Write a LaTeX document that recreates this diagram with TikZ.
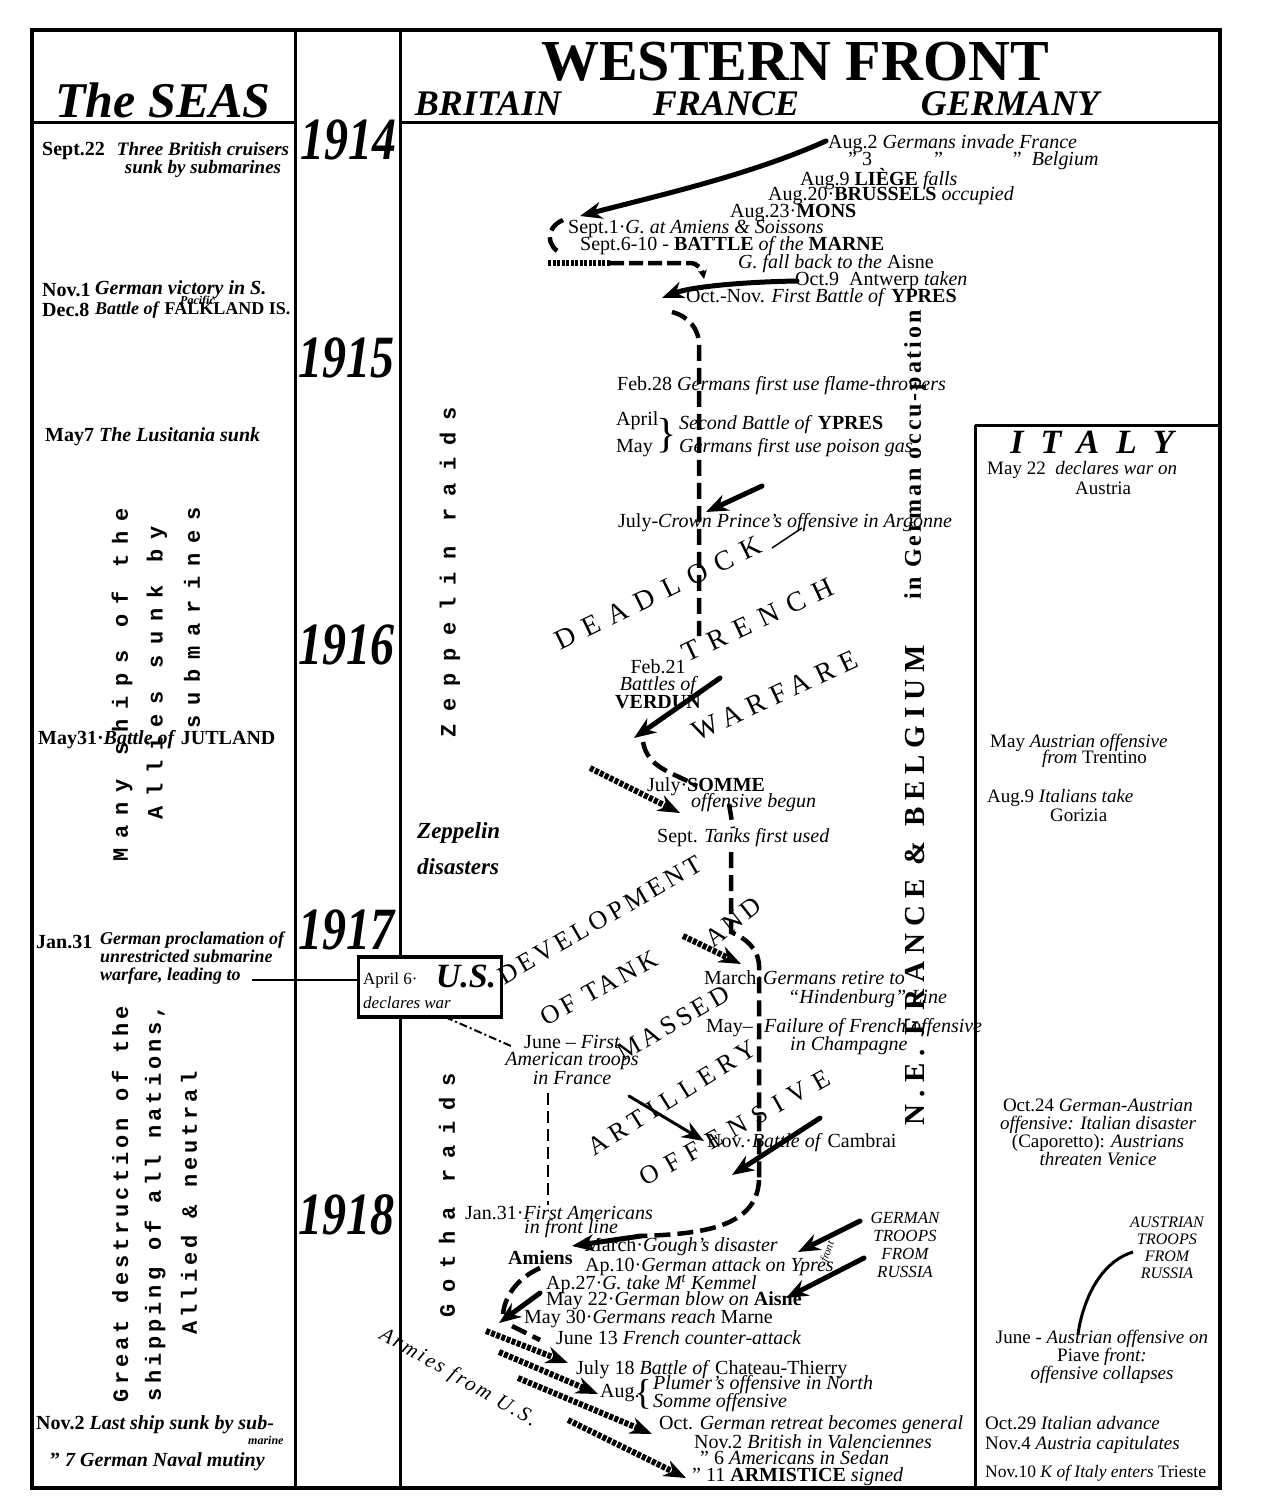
\documentclass[tikz,border=0pt]{standalone}
\usepackage{fontspec}
\setmainfont{Liberation Serif}
\newfontfamily\monof{Liberation Mono}
\usetikzlibrary{arrows.meta}

\newcommand\evfont{\fontsize{20}{17}\selectfont\itshape}
\newcommand\seafont{\fontsize{20}{18}\selectfont\bfseries\itshape}
\newcommand\italyfont{\fontsize{19}{18}\selectfont\itshape}
\newcommand\yearfont{\fontsize{60}{60}\selectfont\bfseries\itshape}
\newcommand\typefont[2]{\fontsize{#1}{#1}\selectfont\monof\bfseries\addfontfeature{LetterSpace=#2}}
\newcommand\capsfont[2]{\fontsize{#1}{#1}\selectfont\addfontfeature{LetterSpace=#2}}
\newcommand\squash[1]{\scalebox{0.8}[1]{#1}}
\newcommand\ditto{\textup{''}}

\begin{document}
\begin{tikzpicture}[x=1pt, y=-1pt,
    ev/.style={font=\evfont, inner sep=0pt, anchor=west},
    evc/.style={font=\evfont, inner sep=0pt, align=center},
    sea/.style={font=\seafont, inner sep=0pt, anchor=west},
    italy/.style={font=\italyfont, inner sep=0pt, anchor=west},
    year/.style={font=\yearfont, inner sep=0pt},
    wide/.style={font={\typefont{22}{45}}, inner sep=0pt, rotate=90},
    slant/.style={font={\capsfont{28}{37}}, inner sep=0pt},
    slantb/.style={font={\capsfont{26}{15}}, inner sep=0pt},
    push/.style={line width=5pt, line cap=round, -{Stealth[length=22pt,width=17pt]}},
    hatch/.style={line width=6pt, dash pattern=on 4pt off 1.5pt, -{Stealth[length=22pt,width=17pt]}},
    front/.style={line width=4.5pt, dash pattern=on 16pt off 7pt},
    rule/.style={line width=3pt}]

    \useasboundingbox (0,0) rectangle (1264,1497);

    % Frame and columns
    \draw[line width=4pt] (32,30) rectangle (1220,1488);
    \draw[rule] (295,30) -- (295,1488);
    \draw[rule] (400,30) -- (400,1488);
    \draw[rule] (32,122) -- (295,122);
    \draw[rule] (400,122) -- (1220,122);
    \draw[rule] (975,425) -- (1220,425) (975,425) -- (975,1488);

    % Headings
    \node[font=\fontsize{50}{50}\selectfont\bfseries\itshape] (seas) at (163,100) {The SEAS};
    \node[font=\fontsize{58}{58}\selectfont\bfseries] (western) at (795,62) {WESTERN FRONT};
    \node[font=\fontsize{36}{36}\selectfont\bfseries\itshape] (britain) at (488,104) {BRITAIN};
    \node[font=\fontsize{36}{36}\selectfont\bfseries\itshape] (france) at (726,104) {FRANCE};
    \node[font=\fontsize{36}{36}\selectfont\bfseries\itshape] (germany) at (1010,104) {GERMANY};

    % Years
    \node[year] (y1914) at (348,140) {\squash{1914}};
    \node[year] (y1915) at (346,358) {\squash{1915}};
    \node[year] (y1916) at (346,645) {\squash{1916}};
    \node[year] (y1917) at (346,930) {\squash{1917}};
    \node[year] (y1918) at (346,1215) {\squash{1918}};

    % The seas
    \node[sea] (sept22) at (42,151) {\textup{Sept.22}};
    \node[sea, anchor=center, align=center, font=\fontsize{19}{18}\selectfont\bfseries\itshape] (cruisers) at (203,160) {Three British cruisers\\sunk by submarines};
    \node[sea] (nov1) at (42,290) {\textup{Nov.1}};
    \node[sea] (pacvic) at (95,290) {German victory in S.};
    \node[sea, font=\fontsize{12}{12}\selectfont\bfseries\itshape] (pacific) at (180,302) {Pacific};
    \node[sea] (dec8) at (42,310) {\textup{Dec.8}};
    \node[sea, font=\fontsize{18}{18}\selectfont\bfseries\itshape] (falkland) at (95,310) {Battle of \textup{FALKLAND IS.}};
    \node[sea] (lusitania) at (45,437) {\textup{May7} The Lusitania sunk};
    \node[sea] (jutland) at (38,740) {\textup{May31·}Battle of \textup{JUTLAND}};
    \node[sea] (jan31s) at (36,942) {\textup{Jan.31}};
    \node[sea, anchor=north west, align=left, font=\fontsize{18}{18}\selectfont\bfseries\itshape] (proclam) at (100,932) {German proclamation of\\unrestricted submarine\\warfare, leading to};
    \node[sea] (nov2s) at (36,1425) {\textup{Nov.2} Last ship sunk by sub-};
    \node[sea, font=\fontsize{12}{12}\selectfont\bfseries\itshape] (marine) at (248,1440) {marine};
    \node[sea] (mutiny) at (50,1462) {\ditto\ 7 German Naval mutiny};

    \node[wide] (manyships) at (122,685) {Many ships of the};
    \node[wide] (alliessunk) at (157,673) {Allies sunk by};
    \node[wide] (submarines) at (192,618) {submarines};
    \node[wide, font={\typefont{22}{18}}] (greatdest) at (120,1204) {Great destruction of the};
    \node[wide, font={\typefont{22}{18}}] (shipping) at (155,1203) {shipping of all nations,};
    \node[wide, font={\typefont{22}{18}}] (allied) at (189,1203) {Allied \& neutral};

    % 1914
    \node[ev] (aug2) at (828,144) {\textup{Aug.2} Germans invade France};
    \node[ev] (aug3) at (848,161) {\ditto\ \textup{3}\hspace{62pt}\ditto\hspace{70pt}\ditto\ \ Belgium};
    \node[ev] (liege) at (800,179) {\textup{Aug.9 \textbf{LIÈGE}} falls};
    \node[ev] (brussels) at (768,196) {\textup{Aug.20·\textbf{BRUSSELS}} occupied};
    \node[ev] (mons) at (730,213) {\textup{Aug.23·\textbf{MONS}}};
    \node[ev] (sept1) at (568,229) {\textup{Sept.1·}G. at Amiens \& Soissons};
    \node[ev] (marne) at (580,246) {\textup{Sept.6-10 - \textbf{BATTLE} \textit{of the} \textbf{MARNE}}};
    \node[ev] (aisne) at (738,264) {G. fall back to the \textup{Aisne}};
    \node[ev] (antwerp) at (795,281) {\textup{Oct.9 \ Antwerp} taken};
    \node[ev] (ypres1) at (686,298) {\textup{Oct.-Nov.} First Battle of \textup{\textbf{YPRES}}};

    \coordinate (invT) at (826,141);
    \coordinate (invH) at (580,216);
    \draw[push] (invT) .. controls (750,175) and (660,195) .. (invH);
    \coordinate (brk1) at (563,220);
    \coordinate (brk2) at (562,254);
    \draw[front] (brk1) .. controls (545,228) and (546,246) .. (brk2);
    \coordinate (retL) at (548,263);
    \coordinate (retM) at (610,263);
    \coordinate (retR) at (690,263);
    \coordinate (retE) at (704,279);
    \draw[line width=6pt, dash pattern=on 3pt off 1.5pt] (retL) -- (retM);
    \draw[front, dash pattern=on 14pt off 5pt, -{Stealth[length=9pt,width=9pt]}] (retM) -- (retR) to[out=0, in=100] (retE);
    \coordinate (antT) at (797,281);
    \coordinate (antH) at (662,298);
    \draw[push] (antT) .. controls (740,282) and (690,287) .. (antH);

    % 1915
    \node[ev] (flame) at (617,386) {\textup{Feb.28} Germans first use flame-throwers};
    \node[ev] (april15) at (616,421) {\textup{April}};
    \node[ev] (may15) at (616,448) {\textup{May}};
    \node[inner sep=0pt, font=\fontsize{42}{42}\selectfont] (brace15) at (667,436) {\}};
    \node[ev] (ypres2) at (679,425) {Second Battle of \textup{\textbf{YPRES}}};
    \node[ev] (gas) at (679,448) {Germans first use poison gas};
    \node[ev] (argonne) at (618,523) {\textup{July-}Crown Prince's offensive in Argonne};

    \coordinate (f1) at (672,312);
    \coordinate (f2) at (699,345);
    \coordinate (f3) at (699,636);
    \draw[front] (f1) to[out=-15, in=90] (f2) -- (f3);
    \coordinate (argT) at (762,486);
    \coordinate (argH) at (706,512);
    \draw[push] (argT) -- (argH);
    \coordinate (dlk) at (772,548);
    \coordinate (argl) at (802,528);
    \draw[line width=1.5pt] (dlk) -- (argl);

    % 1916
    \node[evc] (verdun) at (658,684) {\textup{Feb.21}\\Battles of\\\textup{\textbf{VERDUN}}};
    \node[ev] (somme) at (647,787) {\textup{July·\textbf{SOMME}}};
    \node[ev] (sommeoff) at (691,803) {offensive begun};
    \node[ev] (tanks) at (657,838) {\textup{Sept.} Tanks first used};
    \node[ev, font=\fontsize{23}{23}\selectfont\bfseries\itshape] (zepdis) at (417,833) {Zeppelin};
    \node[ev, font=\fontsize{23}{23}\selectfont\bfseries\itshape] (zepdis2) at (417,867) {disasters};

    \coordinate (verT) at (720,678);
    \coordinate (verH) at (634,738);
    \draw[push] (verT) -- (verH);
    \coordinate (f4) at (643,742);
    \coordinate (f5) at (697,786);
    \draw[front] (f4) to[out=-80, in=150] (f5);
    \coordinate (somT) at (590,768);
    \coordinate (somH) at (680,813);
    \draw[hatch] (somT) -- (somH);
    \coordinate (f6) at (729,804);
    \coordinate (f7) at (733,828);
    \draw[front] (f6) -- (f7);

    % 1917
    \node[draw, line width=3.5pt, fill=white, minimum width=143pt, minimum height=60pt, inner sep=0pt] (usbox) at (430,987) {};
    \node[ev, font=\fontsize{17}{17}\selectfont] (usapril) at (363,980) {April 6·};
    \node[font=\fontsize{34}{34}\selectfont\bfseries\itshape, inner sep=0pt] (usbig) at (466,976) {U.S.};
    \node[ev, font=\fontsize{17}{17}\selectfont\itshape] (uswar) at (363,1003) {declares war};
    \node[ev] (hindenburg) at (704,978) {\textup{March·}Germans retire to};
    \node[ev] (hindline) at (788,999) {``Hindenburg'' Line};
    \node[ev] (may17) at (706,1028) {\textup{May–}};
    \node[ev] (champagne) at (764,1028) {Failure of French offensive};
    \node[ev] (champ2) at (790,1046) {in Champagne};
    \node[evc] (june17) at (572,1060) {\textup{June – }First\\American troops\\in France};
    \node[ev] (cambrai) at (707,1143) {\textup{Nov.·}Battle of \textup{Cambrai}};

    \coordinate (leadto) at (252,980);
    \draw[line width=2.5pt] (leadto) -- (leadto -| usbox.west);
    \coordinate (usS) at (445,1017);
    \coordinate (usJ) at (511,1046);
    \draw[line width=2pt, dash pattern=on 8pt off 3pt on 2pt off 3pt] (usS) -- (usJ);
    \coordinate (jd1) at (548,1093);
    \coordinate (jd2) at (548,1205);
    \draw[line width=2.5pt, dash pattern=on 12pt off 6pt] (jd1) -- (jd2);
    \coordinate (f8) at (731,852);
    \coordinate (f9) at (731,932);
    \coordinate (f10) at (759,965);
    \coordinate (f11) at (759,1180);
    \draw[front] (f8) -- (f9) .. controls (745,938) and (758,948) .. (f10) -- (f11);
    \coordinate (andT) at (683,936);
    \coordinate (andH) at (741,964);
    \draw[hatch] (andT) -- (andH);
    \coordinate (camT) at (629,1096);
    \coordinate (camH) at (704,1141);
    \draw[push, line width=3pt] (camT) -- (camH);
    \coordinate (offT) at (820,1118);
    \coordinate (offH) at (732,1175);
    \draw[push] (offT) -- (offH);

    % Slanted labels
    \node[slant, rotate=26] (deadlock) at (658,593) {DEADLOCK};
    \node[slant, rotate=25] (trench) at (758,620) {TRENCH};
    \node[slant, rotate=25, font={\capsfont{28}{28}}] (warfare) at (775,696) {WARFARE};
    \node[slantb, rotate=30] (development) at (600,920) {DEVELOPMENT};
    \node[slantb, rotate=38] (andlbl) at (733,922) {AND};
    \node[slantb, rotate=29] (oftank) at (599,988) {OF TANK};
    \node[slantb, rotate=30] (massed) at (673,1023) {MASSED};
    \node[slantb, rotate=32, font={\capsfont{26}{25}}] (artillery) at (672,1098) {ARTILLERY};
    \node[slantb, rotate=29, font={\capsfont{26}{35}}] (offensive) at (735,1128) {OFFENSIVE};

    % Vertical labels
    \node[wide, font={\typefont{22}{55}}] (zepraids) at (450,572) {Zeppelin raids};
    \node[wide, font={\typefont{22}{50}}] (gotharaids) at (447,1195) {Gotha raids};
    \node[rotate=90, inner sep=0pt, font={\fontsize{29}{29}\selectfont\bfseries\addfontfeature{LetterSpace=24}}] (occupied) at (915,885) {N.E. FRANCE \& BELGIUM};
    \node[rotate=90, inner sep=0pt, font={\fontsize{24}{24}\selectfont\bfseries\addfontfeature{LetterSpace=12}}] (occupied2) at (915,455) {in German occu-pation};

    % 1918
    \node[ev] (jan31) at (465,1213) {\textup{Jan.31·}First Americans};
    \node[ev] (frontline) at (524,1229) {in front line};
    \node[ev, font=\fontsize{20}{20}\selectfont\bfseries] (amiens) at (508,1258) {Amiens};
    \node[ev] (gough) at (584,1247) {\textup{March·}Gough's disaster};
    \node[ev] (ypres3) at (585,1267) {\textup{Ap.10·}German attack on Ypres};
    \node[font=\fontsize{11}{11}\selectfont\itshape, rotate=70, inner sep=0pt] (frontlbl) at (828,1252) {front};
    \node[ev] (kemmel) at (546,1284) {\textup{Ap.27·}G. take M\textsuperscript{t} Kemmel};
    \node[ev] (may22) at (546,1301) {\textup{May 22·}German blow on \textup{\textbf{Aisne}}};
    \node[ev] (may30) at (524,1319) {\textup{May 30·}Germans reach \textup{Marne}};
    \node[ev] (june13) at (556,1338) {\textup{June 13} French counter-attack};
    \node[ev] (july18) at (576,1370) {\textup{July 18} Battle of \textup{Chateau-Thierry}};
    \node[ev] (aug18) at (600,1393) {\textup{Aug.}};
    \node[inner sep=0pt, font=\fontsize{36}{36}\selectfont] (brace18) at (643,1394) {\{};
    \node[ev] (plumer) at (653,1385) {Plumer's offensive in North};
    \node[ev] (sommeoff2) at (653,1403) {Somme offensive};
    \node[ev] (retreat) at (659,1425) {\textup{Oct.} German retreat becomes general};
    \node[ev] (valenc) at (694,1442) {\textup{Nov.2} British in Valenciennes};
    \node[ev] (sedan) at (700,1458) {\ditto\ \textup{6} Americans in Sedan};
    \node[ev] (armistice) at (692,1477) {\ditto\ \textup{11 \textbf{ARMISTICE}} signed};
    \node[evc, font=\fontsize{17}{18}\selectfont\itshape] (gtroops) at (905,1245) {GERMAN\\TROOPS\\FROM\\RUSSIA};
    \node[rotate=-30, inner sep=0pt, font={\fontsize{21}{21}\selectfont\itshape\addfontfeature{LetterSpace=12}}] (armiesus) at (458,1378) {Armies from U.S.};

    \coordinate (f12) at (641,1236);
    \draw[front] (f11) .. controls (757,1228) and (700,1234) .. (f12);
    \coordinate (amH) at (572,1246);
    \draw[push] (f12) -- (amH);
    \coordinate (f13) at (540,1268);
    \coordinate (f14) at (503,1314);
    \draw[front] (f13) .. controls (518,1278) and (505,1295) .. (f14);
    \coordinate (maT) at (540,1293);
    \coordinate (maH) at (499,1323);
    \draw[push] (maT) -- (maH);
    \coordinate (f15) at (512,1326);
    \coordinate (f16) at (540,1340);
    \draw[front] (f15) -- (f16);
    \coordinate (gt1T) at (860,1221);
    \coordinate (gt1H) at (798,1252);
    \draw[push] (gt1T) -- (gt1H);
    \coordinate (gt2T) at (864,1258);
    \coordinate (gt2H) at (786,1298);
    \draw[push] (gt2T) -- (gt2H);
    \coordinate (am1T) at (486,1331);
    \coordinate (am1H) at (568,1363);
    \draw[hatch] (am1T) -- (am1H);
    \coordinate (am2T) at (499,1352);
    \coordinate (am2H) at (598,1394);
    \draw[hatch] (am2T) -- (am2H);
    \coordinate (am3T) at (518,1378);
    \coordinate (am3H) at (652,1434);
    \draw[hatch] (am3T) -- (am3H);
    \coordinate (am4T) at (568,1420);
    \coordinate (am4H) at (686,1478);
    \draw[hatch] (am4T) -- (am4H);

    % Italy
    \node[font={\fontsize{34}{34}\selectfont\bfseries\itshape\addfontfeature{LetterSpace=50}}, inner sep=0pt] (italyttl) at (1092,442) {ITALY};
    \node[italy] (may22it) at (987,470) {\textup{May 22} \ declares war on};
    \node[italy] (austria) at (1075,488) {\textup{Austria}};
    \node[italy] (trentino) at (990,743) {\textup{May} Austrian offensive};
    \node[italy] (trentino2) at (1042,759) {from \textup{Trentino}};
    \node[italy] (gorizia) at (987,798) {\textup{Aug.9} Italians take};
    \node[italy] (gorizia2) at (1050,815) {\textup{Gorizia}};
    \node[italy, anchor=center, align=center] (caporetto) at (1098,1132) {\textup{Oct.24} German-Austrian\\offensive: Italian disaster\\\textup{(Caporetto):} Austrians\\threaten Venice};
    \node[italy, anchor=center, align=center, font=\fontsize{16}{17}\selectfont\itshape] (atroops) at (1167,1248) {AUSTRIAN\\TROOPS\\FROM\\RUSSIA};
    \node[italy, anchor=center, align=center] (piave) at (1102,1357) {\textup{June -} Austrian offensive on\\\textup{Piave} front:\\offensive collapses};
    \node[italy] (oct29) at (985,1423) {\textup{Oct.29} Italian advance};
    \node[italy] (nov4) at (985,1445) {\textup{Nov.4} Austria capitulates};
    \node[italy, font=\fontsize{17.5}{17}\selectfont\itshape] (nov10) at (985,1473) {\textup{Nov.10} K of Italy enters \textup{Trieste}};

    \coordinate (atT) at (1133,1252);
    \coordinate (atH) at (1078,1334);
    \draw[line width=3pt] (atT) .. controls (1100,1262) and (1083,1300) .. (atH);
\end{tikzpicture}
\end{document}
